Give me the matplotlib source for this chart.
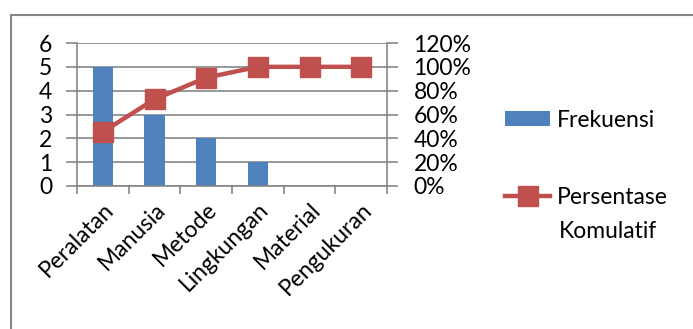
import matplotlib.pyplot as plt
from matplotlib.patches import Rectangle
from matplotlib.ticker import FuncFormatter
from matplotlib.transforms import ScaledTranslation

plt.rcParams['font.family'] = ['Lato', 'DejaVu Sans']

kategori = ["Peralatan", "Manusia", "Metode", "Lingkungan", "Material", "Pengukuran"]
frekuensi = [5, 3, 2, 1, 0, 0]
persen_kumulatif = [45.45, 72.73, 90.91, 100, 100, 100]

BLUE = "#4F81BD"
RED = "#C0504D"
GRID = "#868686"
FS = 16.5

W, H = 693, 329
fig = plt.figure(figsize=(W / 100, H / 100), dpi=100)

# chart frame (runs off the right and bottom edges)
fig.patches.append(Rectangle((11 / W, -0.1), 1.2, (H - 15) / H + 0.1,
                             transform=fig.transFigure, fill=False,
                             edgecolor=GRID, linewidth=1.5))

ax = fig.add_axes([77 / W, (H - 186) / H, 310 / W, 143 / H])
x = list(range(len(kategori)))
ax.bar(x, frekuensi, width=0.39, color=BLUE, label="Frekuensi", zorder=2)
ax.set_xlim(-0.5, len(kategori) - 0.5)
ax.set_ylim(0, 6)
ax.set_yticks(range(0, 7))
ax.grid(axis="y", color=GRID, linewidth=1.2, zorder=0)
ax.set_axisbelow(True)
for s in ["left", "right", "bottom"]:
    ax.spines[s].set_color(GRID)
    ax.spines[s].set_linewidth(1.2)
ax.spines["top"].set_visible(False)

ax.set_xticks([i - 0.5 for i in range(len(kategori) + 1)], minor=False)
ax.set_xticklabels([])
ax.set_xticks(x, minor=True)
ax.set_xticklabels(kategori, minor=True, rotation=45, ha="right",
                   rotation_mode="anchor", fontsize=FS)
# nudge rotated labels a little to the left
shift = ScaledTranslation(-5 / 100, 0, fig.dpi_scale_trans)
for lbl in ax.get_xticklabels(minor=True):
    lbl.set_transform(lbl.get_transform() + shift)
ax.tick_params(axis="x", which="major", length=6, color=GRID, width=1.2)
ax.tick_params(axis="x", which="minor", length=0, pad=9)
ax.tick_params(axis="y", length=8, color=GRID, width=1.2, labelsize=FS, pad=10)

ax2 = ax.twinx()
ax2.plot(x, persen_kumulatif, color=RED, linewidth=3.2, marker="s",
         markersize=14, label="Persentase", zorder=3)
ax2.set_ylim(0, 120)
ax2.set_yticks(range(0, 121, 20))
ax2.yaxis.set_major_formatter(FuncFormatter(lambda v, p: f"{v:.0f}%"))
ax2.tick_params(axis="y", length=8, color=GRID, width=1.2, labelsize=FS, pad=11)
for s in ["left", "right", "bottom", "top"]:
    ax2.spines[s].set_visible(False)

h1, l1 = ax.get_legend_handles_labels()
h2, l2 = ax2.get_legend_handles_labels()
fig.legend(h1 + h2, l1 + l2, loc="upper left", bbox_to_anchor=(484 / W, 1 - 89 / H),
           frameon=False, fontsize=FS, handlelength=2.0, handleheight=0.6,
           labelspacing=2.45, handletextpad=0.3)
fig.text(559 / W, 1 - 232 / H, "Komulatif", fontsize=FS, va="center", ha="left")

fig.savefig("out.png", dpi=100)
